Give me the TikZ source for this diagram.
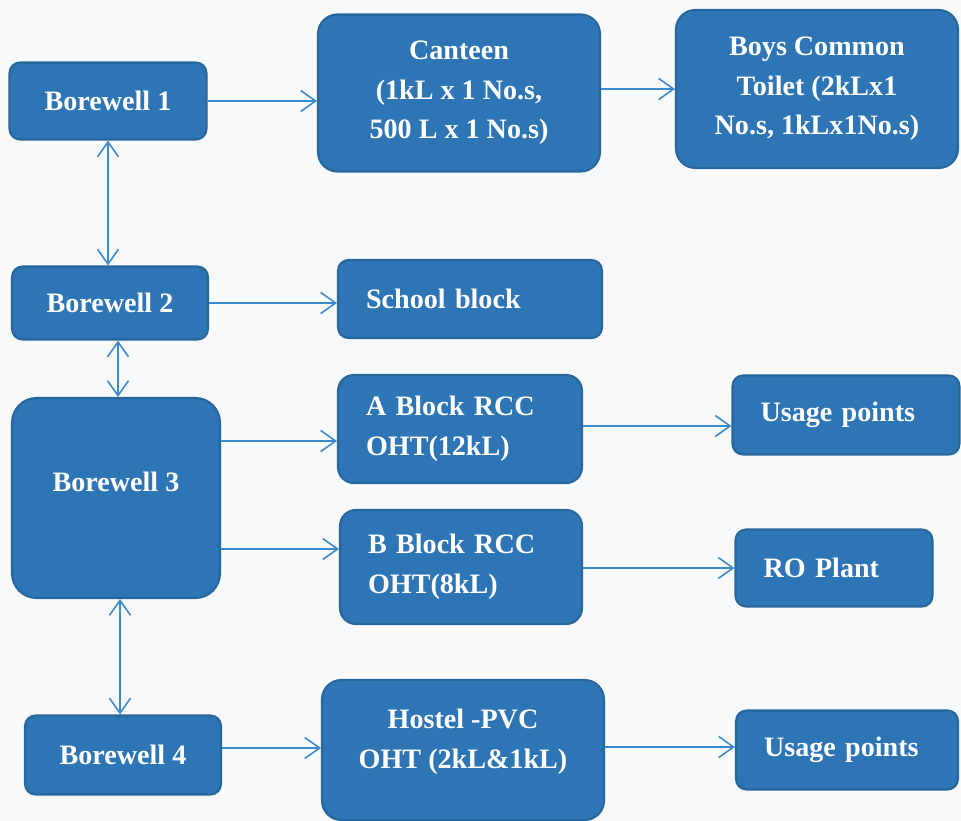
\documentclass[tikz,border=0pt]{standalone}
\usepackage{fontspec}
\setmainfont{Liberation Serif}
\usetikzlibrary{arrows.meta}
\definecolor{tankblue}{HTML}{2E75B6}
\definecolor{tankedge}{HTML}{28679C}
\definecolor{pipeblue}{HTML}{3D89CC}
\definecolor{paper}{HTML}{F8F9FA}
\tikzset{
  tank/.style={draw=tankedge, line width=1.2pt, fill=tankblue, text=white,
    font=\bfseries\fontsize{16}{22.5}\selectfont, align=center,
    rounded corners=6pt, inner sep=2pt},
  tankleft/.style={tank, align=left, inner xsep=0.56cm},
  pipe/.style={draw=pipeblue, line width=0.9pt, >={Straight Barb[length=8.5pt,width=12pt]}, ->},
  pipeboth/.style={pipe, <->}
}
\begin{document}
\begin{tikzpicture}[x=0.02cm,y=-0.02cm]
    \fill [paper] (0,0) rectangle (961,821);
    \useasboundingbox (0,0) rectangle (961,821);

    %borewells
    \node [tank, minimum width=3.94cm, minimum height=1.54cm] (b1) at (108,101) {Borewell 1};
    \node [tank, minimum width=3.92cm, minimum height=1.46cm] (b2) at (110,303) {Borewell 2};
    \node [tank, minimum width=4.16cm, minimum height=4.0cm, rounded corners=14pt, text depth=18pt] (b3) at (116,498) {Borewell 3};
    \node [tank, minimum width=3.92cm, minimum height=1.58cm] (b4) at (123,755) {Borewell 4};

    %for borewell 1
    \node [tank, minimum width=5.64cm, minimum height=3.14cm, rounded corners=11pt] (canteen) at (459,93) {Canteen\\(1kL x 1 No.s,\\500 L x 1 No.s)};
    \node [tank, minimum width=5.64cm, minimum height=3.16cm, rounded corners=11pt] (boys) at (817,89) {Boys Common\\Toilet (2kLx1\\No.s, 1kLx1No.s)};

    %for borewell 2
    \node [tankleft, text width=4.16cm, minimum height=1.56cm] (school) at (470,299) {School block};

    %for borewell 3
    \node [tankleft, text width=3.76cm, minimum height=2.16cm, rounded corners=9pt] (ablock) at (460,429) {A Block RCC\\OHT(12kL)};
    \node [tankleft, text width=3.72cm, minimum height=2.28cm, rounded corners=9pt] (bblock) at (461,567) {B Block RCC\\OHT(8kL)};
    \node [tankleft, text width=3.42cm, minimum height=1.58cm] (usagea) at (846,415) {Usage points};
    \node [tankleft, text width=2.82cm, minimum height=1.54cm] (roplant) at (834,568) {RO Plant};

    %for borewell 4
    \node [tank, minimum width=5.64cm, minimum height=2.8cm, rounded corners=11pt, text depth=13pt] (hostel) at (463,750) {Hostel -PVC\\OHT (2kL\&1kL)};
    \node [tankleft, text width=3.32cm, minimum height=1.58cm] (usageb) at (847,750) {Usage points};

    %pipes between borewells
    \draw [pipeboth] (b1.south) -- (b1.south |- b2.north);
    \draw [pipeboth] (b2.south -| 118,0) -- (b3.north -| 118,0);
    \draw [pipeboth] (b3.south -| 120,0) -- (b4.north -| 120,0);

    %pipes to the tanks
    \draw [pipe] (b1.east) -- (b1.east -| canteen.west);
    \draw [pipe] (canteen.east |- boys.west) -- (boys.west);
    \draw [pipe] (b2.east) -- (b2.east -| school.west);
    \draw [pipe] (b3.east |- 0,441) -- (ablock.west |- 0,441);
    \draw [pipe] (b3.east |- 0,549) -- (bblock.west |- 0,549);
    \draw [pipe] (ablock.east |- 0,426) -- (usagea.west |- 0,426);
    \draw [pipe] (bblock.east |- roplant.west) -- (roplant.west);
    \draw [pipe] (b4.east |- 0,748) -- (hostel.west |- 0,748);
    \draw [pipe] (hostel.east |- 0,747) -- (usageb.west |- 0,747);
\end{tikzpicture}
\end{document}
